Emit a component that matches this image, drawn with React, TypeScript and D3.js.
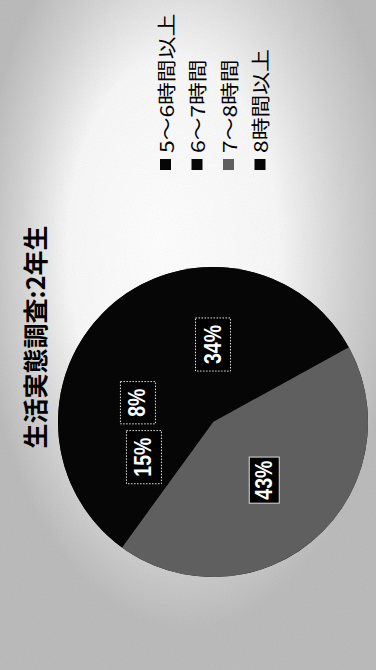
import React from "react";
import * as d3 from "d3";

const categories = ["5～6時間以上", "6～7時間", "7～8時間", "8時間以上"];
const values = [8, 34, 43, 15];
const percentLabels = ["8%", "34%", "43%", "15%"];
const sliceColors = ["#060606", "#060606", "#5f5f5f", "#060606"];
const title = "生活実態調査:2年生";

const W = 376;
const H = 670;
const cx = 213;
const cy = 422;
const R = 155;

export default function App() {
  const pie = d3
    .pie<number>()
    .sort(null)
    .startAngle(-Math.PI / 2)
    .endAngle((3 * Math.PI) / 2);
  const arcs = pie(values);
  const arcGen = d3.arc<d3.PieArcDatum<number>>().innerRadius(0).outerRadius(R);

  const legendX = d3.scaleLinear().domain([0, 3]).range([165.5, 260]);

  const labelFont = 23;
  const labelScale = 0.85;

  return (
    <svg
      width={W}
      height={H}
      viewBox={`0 0 ${W} ${H}`}
      style={{ position: "absolute", left: 0, top: 0, display: "block" }}
    >
      <defs>
        <radialGradient id="bgGlow" cx="0.5" cy="0.38" r="0.56" fx="0.42" fy="0.36">
          <stop offset="0%" stopColor="#ffffff" stopOpacity={1} />
          <stop offset="50%" stopColor="#ffffff" stopOpacity={0.9} />
          <stop offset="78%" stopColor="#ffffff" stopOpacity={0.35} />
          <stop offset="100%" stopColor="#ffffff" stopOpacity={0} />
        </radialGradient>
        <filter id="grain" x="0" y="0" width="100%" height="100%">
          <feTurbulence type="fractalNoise" baseFrequency="0.9" numOctaves={1} seed={3} result="n" />
          <feColorMatrix type="saturate" values="0" />
        </filter>
      </defs>
      <rect x={0} y={0} width={W} height={H} fill="#b9b9b9" />
      <rect x={0} y={0} width={W} height={H} fill="url(#bgGlow)" />
      <rect x={0} y={0} width={W} height={H} filter="url(#grain)" opacity={0.12} />

      <text
        transform={`translate(33.5, 337) rotate(-90)`}
        textAnchor="middle"
        dominantBaseline="central"
        fontFamily="'Noto Sans CJK JP', 'Noto Sans', sans-serif"
        fontWeight="bold"
        fontSize={25}
        fill="#000"
      >
        {title}
      </text>

      {categories.map((c, i) => {
        const x = legendX(i);
        return (
          <g key={c}>
            <rect x={x - 5.5} y={159} width={11} height={11} fill={sliceColors[i]} />
            <text
              transform={`translate(${x}, 153) rotate(-90) scale(1.2, 1)`}
              textAnchor="start"
              dominantBaseline="central"
              fontFamily="'Noto Sans CJK JP', 'Noto Sans', sans-serif"
              fontSize={19}
              fill="#000"
            >
              {c}
            </text>
          </g>
        );
      })}

      <g transform={`translate(${cx}, ${cy})`}>
        <circle r={R} fill={sliceColors[0]} />
        {arcs.map((a, i) => (
          <path
            key={i}
            d={arcGen(a) || ""}
            fill={sliceColors[i]}
          />
        ))}
        {arcs.map((a, i) => {
          const [lx, ly] = arcGen.centroid(a);
          const txt = percentLabels[i];
          const nDigits = txt.length - 1;
          const textLen = (nDigits * 0.556 + 0.889) * labelFont * labelScale;
          const isGray = i === 2;
          const bw = isGray ? 30 : 35;
          const bh = textLen + (isGray ? 7 : 14);
          return (
            <g key={"l" + i} transform={`translate(${lx}, ${ly})`}>
              <rect
                x={-bw / 2}
                y={-bh / 2}
                width={bw}
                height={bh}
                fill="#000"
                stroke={isGray ? "#dddddd" : "#e8e8e8"}
                strokeWidth={1}
                strokeDasharray={isGray ? "none" : "1.5 1.5"}
              />
              <text
                transform={`rotate(-90) scale(${labelScale}, 1)`}
                textAnchor="middle"
                dominantBaseline="central"
                fontFamily="'Liberation Sans', Arial, sans-serif"
                fontWeight="bold"
                fontSize={labelFont}
                fill="#fff"
              >
                {txt}
              </text>
            </g>
          );
        })}
      </g>
    </svg>
  );
}
